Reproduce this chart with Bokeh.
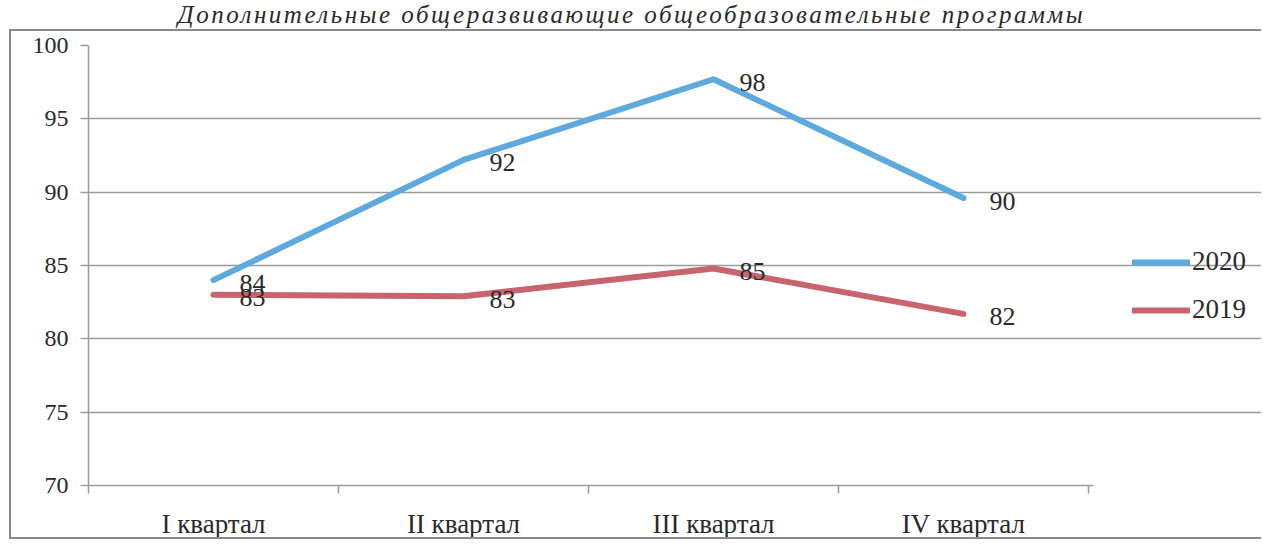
from bokeh.plotting import figure
from bokeh.models import (ColumnDataSource, FixedTicker, Legend, LegendItem, Range1d, Div)
from bokeh.layouts import column
from bokeh.core.properties import value
from bokeh.embed import file_html
from bokeh.resources import INLINE

title_text = "Дополнительные общеразвивающие общеобразовательные программы"
categories = ["I квартал", "II квартал", "III квартал", "IV квартал"]
series_2020 = [84.0, 92.2, 97.7, 89.6]
series_2019 = [83.0, 82.9, 84.8, 81.7]
y_ticks = [70, 75, 80, 85, 90, 95, 100]

FONT = "Liberation Serif"
TXT = "#2a2a2a"
GRID = "#9c9c9c"
BOX = "#8a8a8a"
BLUE = "#5eaadf"
RED = "#c8646e"

xs = [i + 0.5 for i in range(len(categories))]
x_end = len(categories) + 0.02

title = Div(text=title_text, width=1263, height=29, margin=0,
            styles={"font-family": FONT, "font-style": "italic", "font-size": "25px",
                    "line-height": "29px", "letter-spacing": "2.5px",
                    "text-align": "center", "color": TXT,
                    "white-space": "nowrap", "width": "1263px"})

p = figure(width=1252, height=510, output_backend="svg", toolbar_location=None,
           x_range=Range1d(0, 4.7), y_range=Range1d(70, 100),
           min_border_left=77, min_border_right=0, min_border_top=14, min_border_bottom=56)
p.margin = (0, 0, 0, 9)
p.styles = {"border-left": f"2px solid {BOX}", "border-top": f"2px solid {BOX}",
            "border-bottom": f"2px solid {BOX}"}
p.outline_line_color = None
p.background_fill_color = "white"
p.border_fill_color = "white"

# x axis: labels at category centers, tick marks at category boundaries
p.xaxis.ticker = FixedTicker(ticks=xs, minor_ticks=list(range(len(categories) + 1)))
p.xaxis.major_label_overrides = {x: c for x, c in zip(xs, categories)}
p.xaxis.bounds = (0, x_end)
p.xaxis.major_tick_line_color = None
p.xaxis.major_tick_out = 0
p.xaxis.major_tick_in = 0
p.xaxis.minor_tick_out = 8
p.xaxis.minor_tick_in = 0
p.xaxis.minor_tick_line_color = GRID
p.xaxis.minor_tick_line_width = 1.5
p.xaxis.axis_line_color = GRID
p.xaxis.axis_line_width = 1.5
p.xaxis.major_label_text_font = FONT
p.xaxis.major_label_text_font_size = "27px"
p.xaxis.major_label_text_color = TXT
p.xaxis.major_label_standoff = 15
p.xgrid.grid_line_color = None

p.yaxis.ticker = FixedTicker(ticks=y_ticks)
p.yaxis.minor_tick_line_color = None
p.yaxis.major_tick_out = 8
p.yaxis.major_tick_in = 0
p.yaxis.major_tick_line_color = GRID
p.yaxis.major_tick_line_width = 1.5
p.yaxis.axis_line_color = GRID
p.yaxis.axis_line_width = 1.5
p.yaxis.major_label_text_font = FONT
p.yaxis.major_label_text_font_size = "24px"
p.yaxis.major_label_text_color = TXT
p.yaxis.major_label_standoff = 12
p.ygrid.grid_line_color = GRID
p.ygrid.grid_line_width = 1.5
p.ygrid.bounds = (0, x_end)

src20 = ColumnDataSource(dict(x=xs, y=series_2020, lab=[f"{v:.0f}" for v in series_2020]))
src19 = ColumnDataSource(dict(x=xs, y=series_2019, lab=[f"{v:.0f}" for v in series_2019]))

r20 = p.line("x", "y", source=src20, line_color=BLUE, line_width=6,
             line_join="round", line_cap="round")
r19 = p.line("x", "y", source=src19, line_color=RED, line_width=6,
             line_join="round", line_cap="round")

for s in (src20, src19):
    p.text("x", "y", text="lab", source=s, x_offset=26, y_offset=3,
           text_align="left", text_baseline="middle",
           text_font=value(FONT), text_font_size="26px", text_color=TXT)

legend = Legend(items=[LegendItem(label="2020", renderers=[r20]),
                       LegendItem(label="2019", renderers=[r19])],
                location=(1044, 160), orientation="vertical")
legend.border_line_color = None
legend.background_fill_alpha = 0
legend.padding = 0
legend.margin = 0
legend.glyph_width = 58
legend.glyph_height = 30
legend.label_height = 30
legend.spacing = 17
legend.label_standoff = 2
legend.label_text_font = FONT
legend.label_text_font_size = "27px"
legend.label_text_color = TXT
p.add_layout(legend, "center")

layout = column(title, p, spacing=0)
open("out.html", "w").write(file_html(layout, INLINE))
